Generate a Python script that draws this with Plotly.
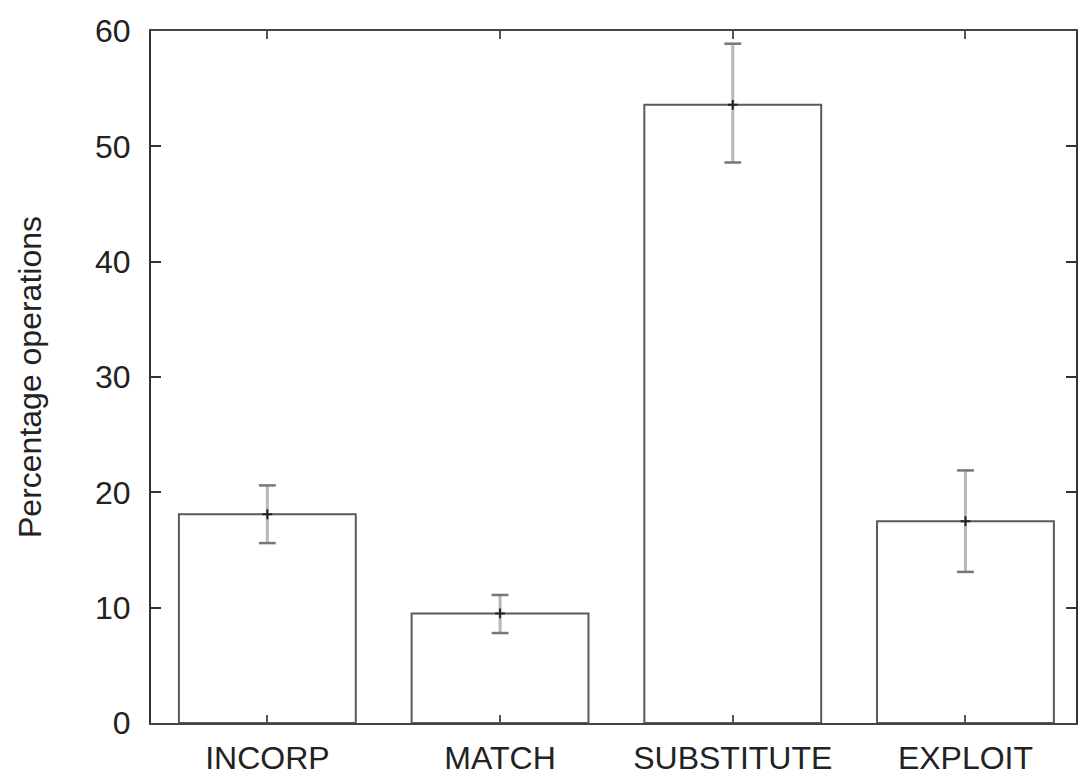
import plotly.graph_objects as go

categories = ["INCORP", "MATCH", "SUBSTITUTE", "EXPLOIT"]
values = [18.1, 9.5, 53.6, 17.5]
err_hi = [20.6, 11.1, 58.9, 21.9]
err_lo = [15.6, 7.8, 48.6, 13.1]
y_ticks = [0, 10, 20, 30, 40, 50, 60]

x_idx = list(range(len(categories)))
plus = [h - v for h, v in zip(err_hi, values)]
minus = [v - l for v, l in zip(values, err_lo)]

fig = go.Figure()
fig.add_trace(go.Bar(
    x=x_idx, y=values, width=0.76,
    marker=dict(color="white", line=dict(color="#5a5a5a", width=2)),
    error_y=dict(type="data", symmetric=False, array=plus, arrayminus=minus,
                 color="#b8b8b8", thickness=3, width=0),
    showlegend=False,
))
# error bar caps
fig.add_trace(go.Scatter(
    x=x_idx + x_idx, y=err_hi + err_lo, mode="markers",
    marker=dict(symbol="line-ew", size=12, line=dict(color="#777", width=2.5)),
    showlegend=False, hoverinfo="skip",
))
# centre points
fig.add_trace(go.Scatter(
    x=x_idx, y=values, mode="markers",
    marker=dict(symbol="cross-thin", size=7, line=dict(color="#222", width=2)),
    showlegend=False, hoverinfo="skip",
))

font = dict(family="Liberation Sans, Arial, sans-serif", size=32, color="#222")
fig.update_layout(
    width=1078, height=776,
    margin=dict(l=151, r=0, t=31, b=53),
    paper_bgcolor="white", plot_bgcolor="white",
    font=font,
)
fig.update_xaxes(
    range=[-0.5, 3.475], tickmode="array", tickvals=x_idx, ticktext=categories,
    showline=True, linecolor="#444", linewidth=2, mirror="ticks",
    ticks="inside", ticklen=8, tickcolor="#555", tickwidth=2,
    showgrid=False, zeroline=False, tickfont=font, ticklabelstandoff=6,
)
fig.update_yaxes(
    range=[0, 60], tickmode="array", tickvals=y_ticks,
    showline=True, linecolor="#333", linewidth=2, mirror="ticks",
    ticks="inside", ticklen=10, tickcolor="#333", tickwidth=2,
    showgrid=False, zeroline=False, tickfont=font, ticklabelstandoff=12,
    title=dict(text="Percentage operations", font=font, standoff=44),
)
fig.write_html("out.html", config={"displayModeBar": False},
               post_script="document.body.style.margin='0';")
